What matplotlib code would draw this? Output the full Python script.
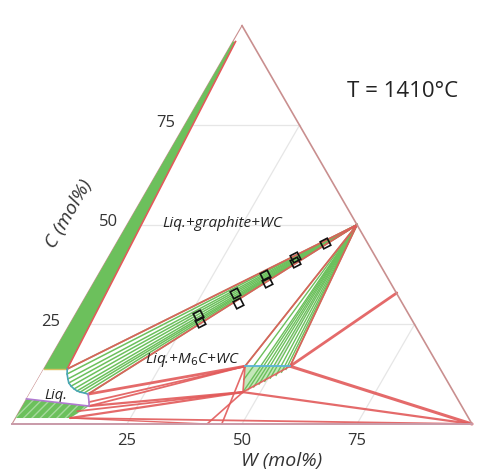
"""
Co-W-C isothermal section at 1410 C, drawn as a ternary diagram.
Compositions are (W mol%, C mol%), Co is the balance.
"""
import numpy as np
import matplotlib.pyplot as plt

plt.rcParams['font.family'] = ['Open Sans', 'DejaVu Sans']
plt.rcParams['hatch.linewidth'] = 1.0

# --- key phase points (W, C) ---
WC = (50.0, 50.0)
M6C_LO = (43.4, 14.5)
M6C_HI = (53.2, 14.5)
M12C = (46.2, 8.0)
W_CORNER = (100.0, 0.0)
EDGE_PT = (67.2, 32.9)

# graphite + liquid band along the Co-C edge
graphite_band = [(0.0, 96.0), (0.0, 13.8), (5.1, 13.8), (0.6, 96.0)]

# liquid region
liquid_region = [(0.0, 13.8), (5.1, 13.8), (6.9, 10.5), (9.9, 8.5),
                 (12.8, 7.5), (14.0, 5.5), (14.5, 4.5), (0.0, 6.3)]

# liquidus in equilibrium with WC (ends of the Liq+WC tie lines)
liq_W = [5.1, 5.7, 6.5, 7.2, 8.1, 9.1, 10.0, 10.8, 11.8, 12.8]
liq_C = [13.8, 12.55, 11.3, 10.3, 9.5, 8.8, 8.3, 8.0, 7.8, 7.5]

# Co-rich solid + liquid band near the Co corner
lower_band = [(0.0, 6.3), (14.5, 4.5), (11.9, 1.5), (0.0, 1.5)]

# WC + M6C / M12C fan (ends of tie lines from WC)
fan_W = [43.4, 44.8, 46.2, 47.0, 47.9, 48.7, 49.6, 50.4, 51.3, 52.1, 52.7, 53.2]
fan_C = [14.5, 11.2, 8.0, 8.6, 9.3, 10.0, 10.7, 11.5, 12.2, 13.0, 13.7, 14.5]

# experimental alloys
exp_W = [26.7, 28.1, 32.0, 33.9, 36.3, 37.6, 40.6, 41.2, 45.3]
exp_C = [27.4, 25.6, 32.9, 30.4, 37.4, 35.6, 41.9, 40.7, 45.4]

# phase boundaries (start, end, linewidth)
boundaries = [
    ((5.1, 13.8), WC, 1.3),
    ((12.8, 7.5), WC, 1.3),
    (M6C_LO, WC, 1.3),
    (M6C_HI, WC, 1.3),
    (M6C_LO, M12C, 1.2),
    (M12C, M6C_HI, 1.2),
    (M6C_HI, EDGE_PT, 2.0),
    (M6C_HI, W_CORNER, 2.2),
    (M12C, W_CORNER, 1.6),
    (M6C_LO, (12.8, 7.5), 2.0),
    (M6C_LO, (14.0, 5.5), 1.3),
    (M6C_LO, (14.5, 4.5), 1.3),
    (M12C, (14.5, 4.5), 1.6),
    (M12C, (12.6, 3.2), 1.3),
    (M12C, (11.9, 1.5), 1.6),
    ((11.9, 1.5), W_CORNER, 1.3),
    ((11.9, 1.5), (42.4, 0.0), 1.0),
    ((42.4, 0.0), M12C, 1.2),
    ((45.6, 0.0), M6C_LO, 1.2),
]

ticks = [25, 50, 75]

RED = '#e25a5a'
GREEN = '#6cc05c'
EDGE = '#c98f8f'


def tern(W, C):
    W = np.asarray(W, dtype=float)
    C = np.asarray(C, dtype=float)
    return (W + C / 2) / 100, C * np.sqrt(3) / 200


def poly(points):
    W, C = zip(*points)
    return tern(W, C)


fig = plt.figure(figsize=(4.82, 4.71), dpi=100)
ax = fig.add_axes([0, 0, 1, 1])
ax.set_xlim(-0.0261, 1.0217)
ax.set_ylim(-0.1022, 0.9217)
ax.set_aspect('equal')
ax.axis('off')

# grid: constant C (horizontal) and constant W lines
for t in ticks:
    x, y = tern([0, 100 - t], [t, t])
    ax.plot(x, y, color='#e6e6e6', lw=0.9, zorder=0)
    x, y = tern([t, t], [0, 100 - t])
    ax.plot(x, y, color='#e6e6e6', lw=0.9, zorder=0)

# regions
x, y = poly(graphite_band)
ax.fill(x, y, color=GREEN, lw=0, zorder=1)
ax.plot([x[1], x[2]], [y[1], y[2]], color='#d8c060', lw=1.0, zorder=3)
ax.plot([x[2], x[3]], [y[2], y[3]], color=RED, lw=1.2, zorder=3)

x, y = poly(lower_band)
ax.fill(x, y, color=GREEN, lw=0, zorder=1)
ax.fill(x, y, facecolor='none', edgecolor='#a6d99c', hatch='////', lw=0, zorder=1)

x, y = poly(liquid_region)
ax.fill(x, y, color='white', lw=0, zorder=1)
lx, ly = tern(liq_W, liq_C)
ax.plot(lx, ly, color='#4aa6b8', lw=1.2, zorder=4)
x2, y2 = poly(liquid_region[4:] + [liquid_region[0]])
ax.plot(x2[:-1], y2[:-1], color='#b07ad0', lw=1.2, zorder=4)

# tie lines Liq + WC
wx, wy = tern(*WC)
for px, py in zip(lx, ly):
    ax.plot([px, wx], [py, wy], color=GREEN, lw=1.1, zorder=2)

# tie lines WC + M6C / M12C
x, y = poly([M6C_LO, M12C, M6C_HI])
ax.fill(x, y, color='#c4e8ba', lw=0, zorder=1)
fx, fy = tern(fan_W, fan_C)
for px, py in zip(fx, fy):
    ax.plot([px, wx], [py, wy], color=GREEN, lw=1.0, zorder=2)

# boundaries
for a, b, lw in boundaries:
    x, y = poly([a, b])
    ax.plot(x, y, color=RED, lw=lw, alpha=0.9, solid_capstyle='round', zorder=3)

x, y = poly([M6C_LO, M6C_HI])
ax.plot(x, y, color='#5ab4d8', lw=1.3, zorder=4)

# triangle outline
x, y = poly([(100, 0), (0, 100)])
ax.plot(x, y, color=EDGE, lw=1.2, zorder=5)
x, y = poly([(0, 0), (100, 0)])
ax.plot(x, y, color='#c99aa8', lw=1.4, zorder=5)
x, y = poly([(0, 0), (0, 100)])
ax.plot(x, y, color=EDGE, lw=0.8, zorder=0)

# experimental points
ex, ey = tern(exp_W, exp_C)
ax.plot(ex, ey, ls='none', marker=(4, 0, 72), ms=8, mfc='none', mec='#111111', mew=1.2, zorder=6)

# tick labels
for t in ticks:
    x, y = tern(t, 0)
    ax.text(x, y - 0.037, str(t), ha='center', va='center', fontsize=12, color='#333333')
    x, y = tern(0, t)
    ax.text(x - 0.04, y + 0.005, str(t), ha='center', va='center', fontsize=12, color='#333333')

ax.text(0.587, -0.080, 'W (mol%)', ha='center', va='center', fontsize=14,
        style='italic', color='#333333')
ax.text(0.125, 0.457, 'C (mol%)', ha='center', va='center', fontsize=14,
        style='italic', rotation=60, color='#333333')

ax.text(0.457, 0.435, 'Liq.+graphite+WC', ha='center', va='center', fontsize=11,
        style='italic', color='#222222')
ax.text(0.392, 0.139, 'Liq.+M$_6$C+WC', ha='center', va='center', fontsize=11,
        style='italic', color='#222222')
ax.text(0.096, 0.063, 'Liq.', ha='center', va='center', fontsize=10.5,
        style='italic', color='#222222')
ax.text(0.848, 0.722, 'T = 1410°C', ha='center', va='center', fontsize=16,
        color='#222222')

fig.savefig('out.png', dpi=100)
